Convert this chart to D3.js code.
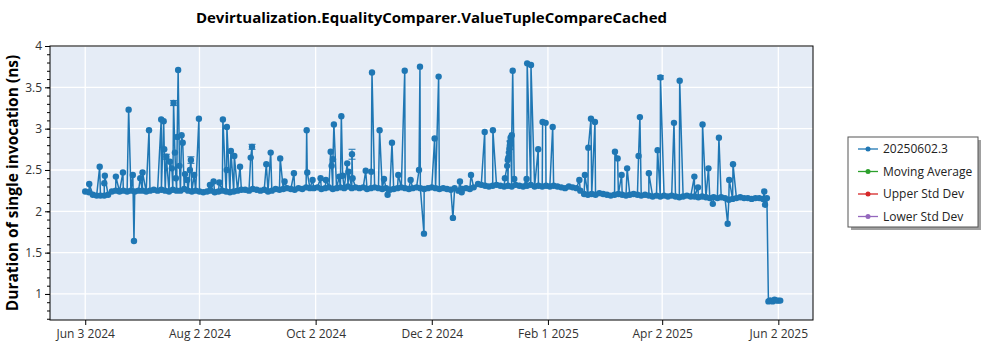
<!DOCTYPE html>
<html>
<head>
<meta charset="utf-8">
<script src="https://cdn.jsdelivr.net/npm/d3@7"></script>
<style>
  html, body { margin: 0; padding: 0; background: #fff; overflow: hidden; }
  svg { display: block; }
  text { font-family: 'Open Sans', sans-serif; }
  .tick text { font-size: 12px; fill: #333; }
  .title { font-size: 15px; font-weight: bold; }
  .axis-label { font-size: 15.5px; font-weight: bold; }
  .legend text { font-size: 12px; fill: #222; }
</style>
</head>
<body>
<svg width="1000" height="350"></svg>
<script>
// runs are counted in days after the first one (Jun 3 2024)
const startDate = new Date(2024, 5, 3);

// typical run, one value every 2 days (null = no run that day)
const baseline = [
  2.24, 2.23, 2.20, 2.19, 2.19, 2.19, 2.20, 2.24, 2.25, 2.24,
  2.25, 2.24, 2.25, 2.24, 2.25, 2.25, 2.24, 2.25, 2.26, 2.25,
  2.26, 2.25, 2.24, 2.26, 2.25, 2.25, 2.27, 2.25, 2.24, 2.25,
  2.24, 2.23, 2.24, 2.25, 2.23, 2.24, 2.25, 2.24, 2.23, 2.24,
  2.25, 2.26, 2.26, 2.25, 2.27, 2.26, 2.25, 2.26, 2.24, 2.25,
  2.27, 2.26, 2.27, 2.28, 2.27, 2.26, 2.28, 2.27, 2.29, 2.28,
  2.28, 2.29, 2.27, 2.28, 2.29, 2.27, 2.28, 2.29, 2.28, 2.30,
  2.28, 2.29, 2.28, 2.29, 2.27, 2.28, 2.29, 2.28, 2.27, 2.28,
  2.26, 2.27, 2.28, 2.29, 2.28, 2.27, 2.28, 2.29, 2.28, 2.27,
  2.28, 2.29, 2.28, 2.27, 2.28, 2.27, 2.26, 2.28, 2.25, 2.27,
  2.28, 2.27, 2.29, null, 2.32, 2.31, 2.30, 2.31, 2.32, 2.31,
  2.30, 2.31, 2.30, 2.32, 2.31, 2.30, 2.31, 2.32, 2.30, 2.31,
  2.30, 2.31, 2.30, 2.31, 2.30, 2.29, 2.28, 2.30, 2.29, 2.28,
  2.25, 2.21, 2.20, 2.21, 2.20, 2.22, 2.21, 2.20, 2.19, 2.20,
  2.21, 2.20, 2.19, 2.20, 2.21, 2.20, 2.19, 2.20, 2.19, 2.18,
  2.19, 2.18, 2.19, 2.18, 2.19, 2.18, 2.17, 2.18, 2.19, 2.18,
  2.18, 2.17, 2.18, 2.17, 2.16, 2.17, 2.16, 2.17, 2.16, 2.14,
  2.15, 2.16, 2.17, 2.16, 2.16, 2.15, 2.16, 2.16, 2.15, 2.16,
  0.92, 0.93, 0.92
];
const baselineStep = 2;

// outlier runs: [day, value]
const spikes = [
  [2.1, 2.33], [7.6, 2.54], [10.0, 2.34], [10.3, 2.43], [16.1, 2.42],
  [19.8, 2.47], [22.8, 3.23], [25.0, 2.44], [25.6, 1.64], [28.9, 2.40],
  [30.1, 2.47], [33.5, 2.98], [39.9, 3.11], [41.2, 3.09], [41.5, 2.75],
  [44.5, 2.60], [45.5, 2.52], [47.1, 2.71], [47.6, 2.40], [48.3, 2.90],
  [48.8, 3.71], [49.5, 2.55], [50.6, 2.92], [51.2, 2.83], [52.4, 2.45],
  [53.5, 2.38], [55.0, 2.50], [57.2, 2.44], [59.7, 3.12], [65.5, 2.32],
  [67.4, 2.36], [70.4, 2.35], [72.3, 3.11], [74.3, 2.50], [74.4, 3.02],
  [76.5, 2.73], [78.3, 2.67], [81.3, 2.54], [86.9, 2.65], [95.1, 2.57],
  [97.4, 2.71], [102.4, 2.64], [104.7, 2.36], [109.6, 2.46], [116.3, 2.98],
  [116.6, 2.47], [119.4, 2.38], [123.6, 2.40], [126.4, 2.38], [128.9, 2.72],
  [129.4, 2.55], [130.1, 2.63], [130.6, 3.05], [133.4, 2.42], [134.5, 3.15],
  [135.2, 2.43], [137.6, 2.58], [138.3, 2.48], [140.4, 2.40], [147.3, 2.49],
  [150.2, 2.48], [150.6, 3.68], [154.6, 2.98], [156.9, 2.39], [158.8, 2.20],
  [161.1, 2.83], [164.4, 2.44], [167.8, 3.70], [170.9, 2.38], [175.3, 2.50],
  [175.8, 3.75], [177.9, 1.73], [183.5, 2.88], [185.6, 3.63], [193.1, 1.92],
  [196.8, 2.36], [197.7, 2.23], [202.6, 2.44], [206.3, 2.33], [209.8, 2.96],
  [214.1, 2.98], [220.4, 2.40], [221.6, 2.55], [221.9, 2.62], [222.2, 2.65],
  [222.5, 2.71], [222.8, 2.76], [223.1, 2.84], [223.4, 2.89], [224.0, 2.92],
  [224.5, 3.70], [225.3, 2.39], [231.8, 2.39], [232.1, 3.79], [234.1, 3.77],
  [237.9, 2.75], [240.2, 3.08], [241.8, 3.07], [245.5, 3.02], [259.5, 2.38],
  [262.4, 2.44], [264.2, 2.77], [265.6, 3.12], [267.7, 3.08], [278.2, 2.72],
  [279.6, 2.64], [281.7, 2.44], [284.6, 2.52], [290.6, 2.67], [291.3, 3.14],
  [296.0, 2.46], [300.6, 2.74], [309.2, 3.07], [312.2, 3.58], [319.9, 2.42],
  [321.8, 2.29], [324.2, 3.05], [327.3, 2.52], [329.6, 2.09], [332.8, 2.89],
  [337.4, 1.85], [338.2, 2.38], [340.2, 2.57], [356.6, 2.24], [357.0, 2.08],
  [358.8, 0.91], [359.5, 0.92], [361.0, 0.91], [363.0, 0.92], [365.0, 0.92]
];

// runs that show an error bar: [day, value, half width]
const errorRuns = [
  [42.6, 2.66, 0.03], [46.4, 3.31, 0.03], [55.5, 2.62, 0.04], [87.6, 2.78, 0.03],
  [140.1, 2.69, 0.06], [223.0, 2.80, 0.05], [302.1, 3.62, 0.02]
];

const xTickDates = ['2024-06-03', '2024-08-02', '2024-10-02', '2024-12-02',
                    '2025-02-01', '2025-04-02', '2025-06-02'];
const yTicks = [1, 1.5, 2, 2.5, 3, 3.5, 4];

const legendLabels = ['20250602.3', 'Moving Average', 'Upper Std Dev', 'Lower Std Dev'];
const legendColors = ['#1f77b4', '#2ca02c', '#d62728', '#9467bd'];

const svg = d3.select('svg');
const margin = { top: 46, right: 187, bottom: 30, left: 50 };
const width = +svg.attr('width');
const height = +svg.attr('height');
const innerWidth = width - margin.left - margin.right;
const innerHeight = height - margin.top - margin.bottom;

const toDate = day => new Date(startDate.getTime() + day * 864e5);
const parseDay = d3.timeParse('%Y-%m-%d');

const runs = [];
baseline.forEach((v, i) => { if (v !== null) runs.push({ date: toDate(i * baselineStep), value: v }); });
spikes.forEach(([d, v]) => runs.push({ date: toDate(d), value: v }));
errorRuns.forEach(([d, v, e]) => runs.push({ date: toDate(d), value: v, err: e }));
runs.sort((a, b) => a.date - b.date);

const xScale = d3.scaleTime()
  .domain([new Date(2024, 4, 15, 12), new Date(2025, 5, 20, 5)])
  .range([0, innerWidth]);
const yScale = d3.scaleLinear()
  .domain([0.685, 4])
  .range([innerHeight, 0]);

const g = svg.append('g')
  .attr('transform', `translate(${margin.left}, ${margin.top})`);

g.append('rect')
  .attr('width', innerWidth)
  .attr('height', innerHeight)
  .attr('fill', '#e5ecf6');

// grid
g.append('g').selectAll('line').data(xTickDates.map(parseDay))
  .enter().append('line')
  .attr('x1', d => xScale(d)).attr('x2', d => xScale(d))
  .attr('y1', 0).attr('y2', innerHeight)
  .attr('stroke', '#fff').attr('stroke-width', 1.3);
g.append('g').selectAll('line').data(yTicks)
  .enter().append('line')
  .attr('x1', 0).attr('x2', innerWidth)
  .attr('y1', d => yScale(d)).attr('y2', d => yScale(d))
  .attr('stroke', '#fff').attr('stroke-width', 1.3);

const plot = g.append('g');

const line = d3.line()
  .x(d => xScale(d.date))
  .y(d => yScale(d.value));

plot.append('path')
  .datum(runs)
  .attr('fill', 'none')
  .attr('stroke', '#1f77b4')
  .attr('stroke-width', 1.5)
  .attr('d', line);

// error bars
const eb = plot.append('g').attr('stroke', '#1f77b4').attr('stroke-width', 1.2).attr('opacity', 0.85);
runs.filter(d => d.err).forEach(d => {
  const x = xScale(d.date);
  eb.append('line').attr('x1', x).attr('x2', x)
    .attr('y1', yScale(d.value - d.err)).attr('y2', yScale(d.value + d.err));
  [d.value - d.err, d.value + d.err].forEach(v => {
    eb.append('line').attr('x1', x - 3.5).attr('x2', x + 3.5)
      .attr('y1', yScale(v)).attr('y2', yScale(v));
  });
});

plot.selectAll('circle').data(runs)
  .enter().append('circle')
  .attr('cx', d => xScale(d.date))
  .attr('cy', d => yScale(d.value))
  .attr('r', 3.2)
  .attr('fill', '#1f77b4');

// axes
const xAxis = d3.axisBottom(xScale)
  .tickValues(xTickDates.map(parseDay))
  .tickFormat(d3.timeFormat('%b %-d %Y'))
  .tickSize(5)
  .tickPadding(4);
const xAxisGroup = g.append('g')
  .attr('transform', `translate(0, ${innerHeight})`)
  .call(xAxis);
xAxisGroup.select('.domain').remove();

const yAxis = d3.axisLeft(yScale)
  .tickValues(yTicks)
  .tickFormat(d3.format('~g'))
  .tickSize(5)
  .tickPadding(3);
const yAxisGroup = g.append('g').call(yAxis);
yAxisGroup.select('.domain').remove();

// minor ticks on the y axis
const minor = g.append('g')
  .call(d3.axisLeft(yScale).tickValues(d3.range(0.7, 4.001, 0.1)).tickSize(3).tickFormat(''));
minor.select('.domain').remove();
minor.selectAll('text').remove();

g.selectAll('.tick line').attr('stroke', '#000');

g.append('rect')
  .attr('width', innerWidth)
  .attr('height', innerHeight)
  .attr('fill', 'none')
  .attr('stroke', '#000')
  .attr('stroke-width', 1);

g.append('text')
  .attr('class', 'axis-label')
  .attr('transform', `rotate(-90)`)
  .attr('x', -innerHeight / 2)
  .attr('y', -32)
  .attr('text-anchor', 'middle')
  .attr('fill', '#000')
  .text('Duration of single invocation (ns)');

svg.append('text')
  .attr('class', 'title')
  .attr('x', margin.left + innerWidth / 2)
  .attr('y', 23)
  .attr('text-anchor', 'middle')
  .attr('fill', '#000')
  .text('Devirtualization.EqualityComparer.ValueTupleCompareCached');

// legend
const legend = svg.append('g')
  .attr('class', 'legend')
  .attr('transform', 'translate(848, 137)');
legend.append('rect')
  .attr('x', 3).attr('y', 3)
  .attr('width', 130).attr('height', 90)
  .attr('fill', '#a0a0a0');
legend.append('rect')
  .attr('width', 130).attr('height', 90)
  .attr('fill', '#fff')
  .attr('stroke', '#555');
const item = legend.selectAll('.item').data(legendLabels)
  .enter().append('g')
  .attr('class', 'item')
  .attr('transform', (d, i) => `translate(0, ${12 + i * 22.5})`);
item.append('line')
  .attr('x1', 10).attr('x2', 30)
  .attr('stroke', (d, i) => legendColors[i])
  .attr('stroke-width', 1.3);
item.append('circle')
  .attr('cx', 20).attr('r', 2.5)
  .attr('fill', (d, i) => legendColors[i]);
item.append('text')
  .attr('x', 35).attr('dy', '0.35em')
  .text(d => d);
</script>
</body>
</html>
